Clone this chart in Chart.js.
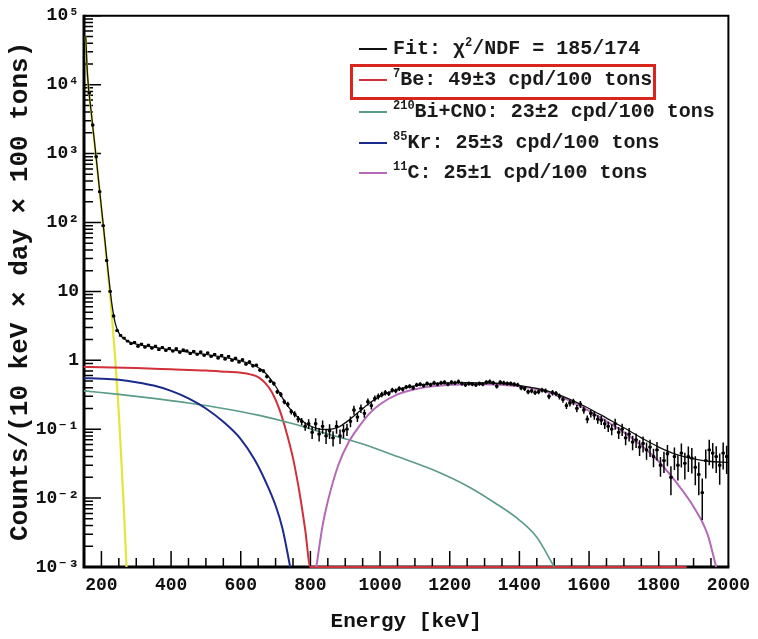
<!DOCTYPE html>
<html>
<head>
<meta charset="utf-8">
<script src="https://cdn.jsdelivr.net/npm/chart.js@4.4.1/dist/chart.umd.min.js"></script>
<style>
  body { margin: 0; background: #fff; }
  #wrap { position: relative; width: 758px; height: 639px; }
  #chart { position: absolute; left: 0; top: 0; }
  .row {
    position: absolute; left: 359px; height: 24px; line-height: 24px;
    font: bold 20px 'Courier New', 'Liberation Mono', monospace;
    color: #1a1a1a; white-space: nowrap;
  }
  .row .seg { display: inline-block; width: 28px; height: 2px; vertical-align: middle; margin-right: 6px; }
  .row sup { font-size: 12px; vertical-align: 8px; line-height: 0; }
  #redbox { position: absolute; left: 350px; top: 64px; width: 306px; height: 36px; border: 3px solid #d8261e; box-sizing: border-box; }
</style>
</head>
<body>
<div id="wrap">
  <canvas id="chart" width="758" height="639"></canvas>
  <div id="legend"></div>
</div>
<script>
// measured spectrum, 10 keV bins (bin centres)
const energies = [
  165, 175, 185, 195, 205, 215, 225, 235, 245, 255,
  265, 275, 285, 295, 305, 315, 325, 335, 345, 355,
  365, 375, 385, 395, 405, 415, 425, 435, 445, 455,
  465, 475, 485, 495, 505, 515, 525, 535, 545, 555,
  565, 575, 585, 595, 605, 615, 625, 635, 645, 655,
  665, 675, 685, 695, 705, 715, 725, 735, 745, 755,
  765, 775, 785, 795, 805, 815, 825, 835, 845, 855,
  865, 875, 885, 895, 905, 915, 925, 935, 945, 955,
  965, 975, 985, 995, 1005, 1015, 1025, 1035, 1045, 1055,
  1065, 1075, 1085, 1095, 1105, 1115, 1125, 1135, 1145, 1155,
  1165, 1175, 1185, 1195, 1205, 1215, 1225, 1235, 1245, 1255,
  1265, 1275, 1285, 1295, 1305, 1315, 1325, 1335, 1345, 1355,
  1365, 1375, 1385, 1395, 1405, 1415, 1425, 1435, 1445, 1455,
  1465, 1475, 1485, 1495, 1505, 1515, 1525, 1535, 1545, 1555,
  1565, 1575, 1585, 1595, 1605, 1615, 1625, 1635, 1645, 1655,
  1665, 1675, 1685, 1695, 1705, 1715, 1725, 1735, 1745, 1755,
  1765, 1775, 1785, 1795, 1805, 1815, 1825, 1835, 1845, 1855,
  1865, 1875, 1885, 1895, 1905, 1915, 1925, 1935, 1945, 1955,
  1965, 1975, 1985, 1995
];
const counts = [
  7600, 2600, 900, 280, 90, 28, 10, 4.4, 2.7, 2.3,
  2.1, 1.9, 1.75, 1.82, 1.6, 1.72, 1.55, 1.66, 1.5, 1.6,
  1.43, 1.54, 1.39, 1.49, 1.36, 1.47, 1.31, 1.41, 1.37, 1.25,
  1.35, 1.22, 1.32, 1.18, 1.28, 1.14, 1.22, 1.08, 1.18, 1.04,
  1.14, 1.0, 1.07, 0.94, 1.02, 0.88, 0.95, 0.83, 0.85, 0.72,
  0.7, 0.58, 0.5, 0.46, 0.35, 0.32, 0.25, 0.23, 0.18, 0.165,
  0.14, 0.13, 0.11, 0.12, 0.09, 0.12, 0.085, 0.11, 0.08, 0.095,
  0.075, 0.11, 0.08, 0.095, 0.1, 0.13, 0.19, 0.15, 0.2, 0.17,
  0.25, 0.22, 0.28, 0.3, 0.32, 0.34, 0.33, 0.37, 0.36, 0.39,
  0.38, 0.41, 0.42, 0.4, 0.44, 0.45, 0.43, 0.46, 0.44, 0.47,
  0.45, 0.47, 0.48, 0.45, 0.48, 0.47, 0.49, 0.46, 0.44, 0.46,
  0.45, 0.44, 0.46, 0.45, 0.48, 0.49, 0.47, 0.42, 0.48, 0.47,
  0.46, 0.46, 0.45, 0.44, 0.4, 0.39, 0.35, 0.36, 0.34, 0.35,
  0.37, 0.36, 0.3, 0.34, 0.33, 0.3, 0.27, 0.22, 0.24, 0.25,
  0.2, 0.23, 0.19, 0.14, 0.17, 0.16, 0.14, 0.135, 0.12, 0.11,
  0.1, 0.12, 0.09, 0.1, 0.075, 0.085, 0.065, 0.07, 0.055, 0.062,
  0.05, 0.055, 0.04, 0.05, 0.03, 0.035, 0.044, 0.02, 0.04, 0.03,
  0.045, 0.032, 0.04, 0.038, 0.028, 0.022, 0.012, 0.035, 0.05, 0.045,
  0.04, 0.03, 0.045, 0.04
];
// relative error of each bin, percent
const errPct = [
  2, 2, 2, 2, 3, 3, 3, 3, 3, 3,
  3, 3, 3, 4, 4, 4, 4, 4, 4, 4,
  4, 4, 4, 4, 4, 4, 4, 4, 4, 4,
  4, 4, 4, 4, 4, 4, 4, 4, 4, 4,
  4, 4, 4, 4, 4, 5, 5, 5, 5, 6,
  6, 6, 6, 7, 7, 8, 8, 9, 9, 10,
  11, 12, 14, 16, 20, 20, 22, 22, 24, 24,
  25, 22, 24, 22, 20, 18, 15, 15, 14, 14,
  12, 12, 10, 10, 9, 9, 8, 8, 8, 8,
  7, 7, 7, 7, 7, 7, 7, 7, 7, 7,
  7, 7, 7, 7, 7, 7, 7, 7, 7, 7,
  7, 7, 7, 7, 7, 7, 7, 7, 7, 7,
  7, 7, 7, 7, 8, 8, 8, 8, 8, 8,
  8, 8, 9, 9, 9, 10, 10, 11, 11, 11,
  12, 12, 12, 13, 13, 14, 14, 15, 16, 17,
  18, 18, 20, 20, 22, 22, 24, 24, 26, 26,
  28, 28, 30, 30, 32, 34, 34, 45, 36, 40,
  38, 42, 40, 40, 45, 50, 60, 45, 40, 40,
  42, 48, 42, 44
];

// fitted total and components
const fitE = [155, 160, 170, 180, 190, 200, 210, 220, 230, 240, 250, 260, 280, 300, 350, 400, 450, 500, 550, 600,
  640, 670, 700, 730, 760, 790, 820, 850, 880, 910, 940, 970, 1000, 1050, 1100, 1150, 1200, 1250, 1300, 1350,
  1400, 1450, 1500, 1550, 1600, 1650, 1700, 1750, 1800, 1850, 1900, 1950, 2000];
const fitV = [50000, 14000, 4300, 1500, 500, 165, 55, 18, 6.6, 3.4, 2.5, 2.15, 1.85, 1.72, 1.55, 1.42, 1.31, 1.22, 1.11, 0.98,
  0.84, 0.66, 0.42, 0.235, 0.155, 0.118, 0.102, 0.099, 0.107, 0.135, 0.18, 0.24, 0.30, 0.375, 0.425, 0.455, 0.47, 0.475, 0.47, 0.46,
  0.43, 0.39, 0.335, 0.265, 0.2, 0.145, 0.105, 0.075, 0.055, 0.043, 0.037, 0.034, 0.033];

const beE = [150, 200, 300, 400, 500, 560, 600, 630, 650, 670, 690, 710, 730, 750, 770, 785, 800, 1880];
const beV = [0.80, 0.79, 0.77, 0.74, 0.71, 0.68, 0.66, 0.62, 0.57, 0.47, 0.34, 0.20, 0.095, 0.038, 0.011, 0.0035, 0.001, 0.001];

const biE = [150, 250, 350, 450, 550, 650, 750, 850, 950, 1050, 1150, 1250, 1330, 1400, 1450, 1500];
const biV = [0.36, 0.32, 0.28, 0.24, 0.20, 0.16, 0.12, 0.085, 0.061, 0.040, 0.026, 0.015, 0.0085, 0.0048, 0.0027, 0.001];

const krE = [150, 200, 250, 300, 350, 400, 450, 500, 550, 600, 640, 670, 700, 720, 742];
const krV = [0.55, 0.54, 0.52, 0.48, 0.43, 0.36, 0.28, 0.20, 0.128, 0.072, 0.036, 0.018, 0.0078, 0.0036, 0.001];

const c11E = [817, 835, 850, 880, 910, 940, 970, 1000, 1050, 1100, 1150, 1200, 1250, 1300, 1350, 1400, 1450, 1500,
  1550, 1600, 1650, 1700, 1750, 1800, 1850, 1900, 1940, 1965];
const c11V = [0.001, 0.004, 0.009, 0.03, 0.065, 0.11, 0.17, 0.23, 0.32, 0.38, 0.42, 0.44, 0.45, 0.45, 0.44, 0.42, 0.38, 0.32,
  0.25, 0.185, 0.13, 0.09, 0.058, 0.034, 0.017, 0.0075, 0.003, 0.001];

const c14E = [155, 160, 170, 180, 190, 200, 210, 220, 230, 240, 250, 258, 265, 272];
const c14V = [50000, 14000, 4200, 1450, 490, 160, 52, 16, 4.5, 1.0, 0.17, 0.03, 0.006, 0.001];

// axes
const xTickLabels = [200, 400, 600, 800, 1000, 1200, 1400, 1600, 1800, 2000];
const yDecades = [1e-3, 1e-2, 1e-1, 1, 10, 1e2, 1e3, 1e4, 1e5];
const yTickLabels = ["10⁻³", "10⁻²", "10⁻¹", "1", "10", "10²", "10³", "10⁴", "10⁵"];

// legend
const legendLabels = [
  "Fit: χ<sup>2</sup>/NDF = 185/174",
  "<sup>7</sup>Be: 49±3 cpd/100 tons",
  "<sup>210</sup>Bi+CNO: 23±2 cpd/100 tons",
  "<sup>85</sup>Kr: 25±3 cpd/100 tons",
  "<sup>11</sup>C: 25±1 cpd/100 tons"
];
const legendColors = ["#111111", "#d0303a", "#5a9c86", "#1c2a8c", "#b46ab8"];
const legendRowY = [49, 80, 112, 143, 173];

const MONO = "'Courier New', 'Liberation Mono', monospace";

function pts(xs, ys) {
  return xs.map((e, i) => ({ x: e, y: ys[i] }));
}

function curve(xs, ys, color, width) {
  return {
    data: pts(xs, ys),
    borderColor: color,
    borderWidth: width,
    pointRadius: 0,
    cubicInterpolationMode: "monotone",
    fill: false,
    clip: { left: 0, top: 0, right: 0, bottom: 2 }
  };
}

const axisFrame = {
  id: "axisFrame",
  beforeDatasetsDraw(chart) {
    const { ctx, chartArea: a, scales: { x, y } } = chart;
    ctx.save();
    ctx.strokeStyle = "#000";
    ctx.lineWidth = 1.5;
    ctx.beginPath();
    for (let e = 200; e < 2000; e += 50) {
      const px = x.getPixelForValue(e);
      const len = e % 200 === 0 ? 16 : 9;
      ctx.moveTo(px, a.bottom);
      ctx.lineTo(px, a.bottom - len);
    }
    yDecades.forEach((d) => {
      for (let k = 1; k <= 9; k++) {
        const v = d * k;
        if (v > 1.0001e5) break;
        const py = y.getPixelForValue(v);
        ctx.moveTo(a.left, py);
        ctx.lineTo(a.left + (k === 1 ? 17 : 9), py);
      }
    });
    ctx.stroke();

    ctx.lineWidth = 2;
    ctx.beginPath();
    ctx.moveTo(a.left, a.top);
    ctx.lineTo(a.right, a.top);
    ctx.lineTo(a.right, a.bottom);
    ctx.stroke();
    ctx.lineWidth = 3;
    ctx.beginPath();
    ctx.moveTo(a.left, a.top - 1);
    ctx.lineTo(a.left, a.bottom);
    ctx.lineTo(a.right + 1, a.bottom);
    ctx.stroke();
    ctx.restore();
  }
};

const errorBars = {
  id: "errorBars",
  afterDatasetsDraw(chart) {
    const { ctx, chartArea: a, scales: { x, y } } = chart;
    ctx.save();
    ctx.beginPath();
    ctx.rect(a.left, a.top, a.right - a.left, a.bottom - a.top);
    ctx.clip();
    ctx.strokeStyle = "#000";
    ctx.lineWidth = 1.5;
    ctx.beginPath();
    energies.forEach((e, i) => {
      const v = counts[i];
      const s = v * errPct[i] / 100;
      const px = x.getPixelForValue(e);
      const py = y.getPixelForValue(v);
      ctx.moveTo(px, y.getPixelForValue(v + s));
      ctx.lineTo(px, y.getPixelForValue(Math.max(v - s, 1e-3)));
      ctx.moveTo(x.getPixelForValue(e - 5), py);
      ctx.lineTo(x.getPixelForValue(e + 5), py);
    });
    ctx.stroke();
    ctx.restore();
  }
};

new Chart(document.getElementById("chart"), {
  type: "line",
  data: {
    datasets: [
      {
        data: pts(energies, counts),
        showLine: false,
        pointStyle: "rect",
        pointRadius: 2,
        pointBackgroundColor: "#000",
        pointBorderWidth: 0
      },
      curve(fitE, fitV, "#111111", 1.3),
      curve(c11E, c11V, "#b46ab8", 2),
      curve(krE, krV, "#1c2a8c", 2),
      curve(biE, biV, "#5a9c86", 1.6),
      curve(beE, beV, "#d0303a", 2),
      curve(c14E, c14V, "#e4e43a", 2.2)
    ]
  },
  options: {
    responsive: false,
    animation: false,
    devicePixelRatio: 1,
    layout: { padding: { top: 14, right: 25, left: 0, bottom: 0 } },
    plugins: { legend: { display: false }, tooltip: { enabled: false } },
    scales: {
      x: {
        type: "linear",
        min: 150,
        max: 2000,
        afterBuildTicks: (s) => { s.ticks = xTickLabels.map((v) => ({ value: v })); },
        afterFit: (s) => { s.height = 72; },
        grid: { display: false, drawTicks: false },
        border: { display: false },
        ticks: {
          autoSkip: false, maxRotation: 0, padding: 8, color: "#111",
          font: { family: MONO, size: 18, weight: "bold" },
          callback: (v) => String(v)
        },
        title: {
          display: true, text: "Energy [keV]", color: "#111", padding: 5,
          font: { family: MONO, size: 21, weight: "bold" }
        }
      },
      y: {
        type: "logarithmic",
        min: 1e-3,
        max: 1e5,
        afterBuildTicks: (s) => { s.ticks = yDecades.map((v) => ({ value: v })); },
        afterFit: (s) => { s.width = 84; },
        grid: { display: false, drawTicks: false },
        border: { display: false },
        ticks: {
          autoSkip: false, padding: 5, color: "#111",
          font: { family: MONO, size: 18, weight: "bold" },
          callback: (v) => {
            const i = yDecades.findIndex((d) => Math.abs(Math.log10(d) - Math.log10(v)) < 1e-6);
            return i >= 0 ? yTickLabels[i] : "";
          }
        },
        title: {
          display: true, text: "Counts/(10 keV × day × 100 tons)", color: "#111", padding: 5,
          font: { family: MONO, size: 26, weight: "bold" }
        }
      }
    }
  },
  plugins: [axisFrame, errorBars]
});

const legend = document.getElementById("legend");
legendLabels.forEach((label, i) => {
  const row = document.createElement("div");
  row.className = "row";
  row.style.top = (legendRowY[i] - 12) + "px";
  row.innerHTML = `<span class="seg" style="background:${legendColors[i]}"></span>${label}`;
  legend.appendChild(row);
});
const box = document.createElement("div");
box.id = "redbox";
legend.appendChild(box);
</script>
</body>
</html>
